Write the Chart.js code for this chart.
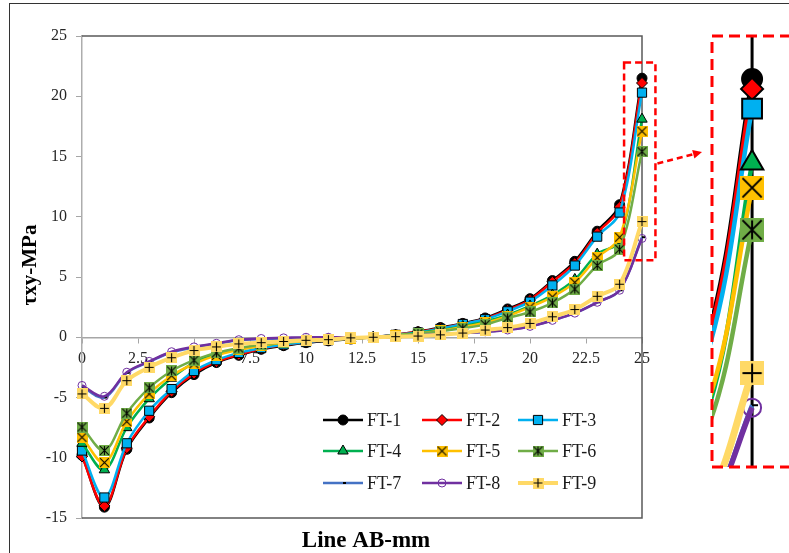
<!DOCTYPE html>
<html>
<head>
<meta charset="utf-8">
<script src="https://cdn.jsdelivr.net/npm/chart.js@4.4.1/dist/chart.umd.min.js"></script>
<style>
    html, body { margin: 0; padding: 0; background: #fff; }
    #quadro { position: relative; width: 789px; height: 553px; overflow: hidden; }
    #moldura { position: absolute; left: 9px; top: 3px; width: 900px; height: 700px; border-left: 1.5px solid #333; border-top: 1.5px solid #333; }
    #grafico { position: absolute; left: 0; top: 0; }
    #graficoZoom { position: absolute; left: 700px; top: 0; }
</style>
</head>
<body>
<div id="quadro">
    <div id="moldura"></div>
    <canvas id="grafico" width="789" height="553" style="width:789px;height:553px"></canvas>
    <canvas id="graficoZoom" width="89" height="553" style="width:89px;height:553px"></canvas>
</div>
<script>
// posições ao longo da linha AB (mm)
const posicoes = [0, 1, 2, 3, 4, 5, 6, 7, 8, 9, 10, 11, 12, 13, 14, 15, 16, 17, 18, 19, 20, 21, 22, 23, 24, 25];
const ticksX = [0, 2.5, 5, 7.5, 10, 12.5, 15, 17.5, 20, 22.5, 25];
const ticksY = [-15, -10, -5, 0, 5, 10, 15, 20, 25];
const nomes = ['FT-1', 'FT-2', 'FT-3', 'FT-4', 'FT-5', 'FT-6', 'FT-7', 'FT-8', 'FT-9'];

// tensão de cisalhamento (MPa)
const ft1 = [-9.8, -14.1, -9.3, -6.7, -4.6, -3.1, -2.1, -1.5, -1.0, -0.7, -0.45, -0.3, -0.15, 0.0, 0.2, 0.45, 0.8, 1.15, 1.6, 2.35, 3.2, 4.7, 6.3, 8.8, 11.0, 21.5];
const ft2 = [-9.9, -14.0, -9.2, -6.6, -4.5, -3.0, -2.05, -1.45, -0.95, -0.65, -0.4, -0.25, -0.1, 0.0, 0.2, 0.45, 0.75, 1.1, 1.55, 2.25, 3.1, 4.6, 6.15, 8.65, 10.8, 21.1];
const ft3 = [-9.4, -13.3, -8.8, -6.1, -4.3, -2.8, -1.9, -1.3, -0.9, -0.6, -0.4, -0.25, -0.1, 0.0, 0.2, 0.4, 0.7, 1.1, 1.5, 2.15, 2.95, 4.3, 5.95, 8.35, 10.35, 20.3];
const ft4 = [-8.8, -11.0, -7.5, -5.1, -3.4, -2.1, -1.4, -1.0, -0.7, -0.45, -0.3, -0.2, -0.1, 0.0, 0.15, 0.35, 0.6, 0.9, 1.3, 1.85, 2.6, 3.5, 4.8, 6.9, 8.0, 18.1];
const ft5 = [-8.3, -10.4, -7.0, -4.7, -3.2, -2.2, -1.5, -1.05, -0.7, -0.45, -0.3, -0.2, -0.1, 0.0, 0.15, 0.3, 0.55, 0.85, 1.2, 1.75, 2.5, 3.35, 4.55, 6.6, 8.3, 17.1];
const ft6 = [-7.45, -9.4, -6.3, -4.2, -2.8, -1.9, -1.3, -0.9, -0.6, -0.4, -0.25, -0.15, -0.05, 0.0, 0.1, 0.3, 0.5, 0.75, 1.05, 1.6, 2.1, 2.85, 4.0, 5.95, 7.3, 15.4];
const ft7 = [-4.1, -5.0, -2.95, -2.05, -1.25, -0.85, -0.55, -0.25, -0.15, -0.1, -0.05, -0.05, 0.0, 0.0, 0.05, 0.15, 0.25, 0.35, 0.45, 0.65, 0.9, 1.4, 2.0, 2.9, 3.9, 8.3];
const ft8 = [-4.0, -4.9, -2.9, -2.0, -1.2, -0.8, -0.5, -0.2, -0.1, -0.05, 0.0, 0.0, 0.0, 0.0, 0.05, 0.15, 0.25, 0.35, 0.45, 0.6, 0.9, 1.4, 2.0, 2.9, 3.9, 8.2];
const ft9 = [-4.7, -5.9, -3.6, -2.5, -1.7, -1.1, -0.8, -0.55, -0.45, -0.35, -0.25, -0.2, -0.05, 0.0, 0.05, 0.1, 0.2, 0.35, 0.6, 0.8, 1.15, 1.7, 2.3, 3.4, 4.4, 9.6];
const series = [ft1, ft2, ft3, ft4, ft5, ft6, ft7, ft8, ft9];

// aparência de cada série (gráfico principal e ampliação)
const estilos = [
    { cor: '#000000', marcador: 'circle', fundo: '#000000', raio: 5, raioZoom: 10, largura: 2.5, larguraZoom: 4.5 },
    { cor: '#FF0000', marcador: 'rectRot', fundo: '#FF0000', raio: 5.5, raioZoom: 11, largura: 2.5, larguraZoom: 4.5 },
    { cor: '#00B0F0', marcador: 'rect', fundo: '#00B0F0', raio: 6.5, raioZoom: 14, largura: 2.5, larguraZoom: 4.5 },
    { cor: '#00B050', marcador: 'triangle', fundo: '#00B050', raio: 6, raioZoom: 13, largura: 2.5, larguraZoom: 4.5 },
    { cor: '#FFC000', marcador: 'x', fundo: '#FFC000', raio: 5, raioZoom: 10, largura: 2.5, larguraZoom: 4.5 },
    { cor: '#70AD47', marcador: 'star', fundo: '#70AD47', raio: 5, raioZoom: 10, largura: 2.5, larguraZoom: 4.5 },
    { cor: '#4472C4', marcador: 'dash', fundo: '#000000', borda: '#000000', raio: 3, raioZoom: 6, largura: 2.5, larguraZoom: 4.5 },
    { cor: '#7030A0', marcador: 'circle', fundo: 'rgba(255,255,255,0)', borda: '#7030A0', raio: 4, raioZoom: 9, largura: 2.5, larguraZoom: 5.5 },
    { cor: '#FFD966', marcador: 'plus', fundo: '#FFD966', raio: 5, raioZoom: 10, largura: 4, larguraZoom: 7 }
];

const fonteSerif = "'Liberation Serif', 'Times New Roman', serif";

// marcador quadrado com símbolo (x, asterisco, +) desenhado num canvas
function criarMarcador(tipo, lado, fundo, espessura) {
    const c = document.createElement('canvas');
    c.width = lado;
    c.height = lado;
    const g = c.getContext('2d');
    g.fillStyle = fundo;
    g.fillRect(0, 0, lado, lado);
    g.strokeStyle = '#000';
    g.lineWidth = espessura;
    const m = lado * 0.1, a = lado - m, meio = lado / 2;
    g.beginPath();
    if (tipo === 'x' || tipo === 'star') {
        g.moveTo(m, m); g.lineTo(a, a);
        g.moveTo(a, m); g.lineTo(m, a);
    }
    if (tipo === 'star' || tipo === 'plus') {
        g.moveTo(meio, m); g.lineTo(meio, a);
    }
    if (tipo === 'plus') {
        g.moveTo(m, meio); g.lineTo(a, meio);
    }
    g.stroke();
    return c;
}

function montarSeries(ampliado) {
    return series.map((valores, i) => {
        const e = estilos[i];
        const comImagem = ['x', 'star', 'plus'].includes(e.marcador);
        const ultimo = valores.length - 1;
        return {
            label: nomes[i],
            data: valores.map((v, k) => ({ x: posicoes[k], y: v })),
            borderColor: e.cor,
            backgroundColor: e.cor,
            borderWidth: ampliado ? e.larguraZoom : e.largura,
            tension: 0.35,
            capBezierPoints: !ampliado,
            pointStyle: comImagem ? criarMarcador(e.marcador, ampliado ? 24 : 11, e.fundo, ampliado ? 2 : 1.1) : e.marcador,
            pointRadius: ampliado ? (ctx => ctx.dataIndex === ultimo ? e.raioZoom : 0) : e.raio,
            pointBackgroundColor: e.fundo,
            pointBorderColor: e.borda || '#000',
            pointBorderWidth: ampliado ? 2 : (e.marcador === 'dash' ? 2 : 1),
            order: series.length - i,
            clip: ampliado ? 0 : false
        };
    });
}

// moldura da área de plotagem, caixa de destaque, seta, títulos e legenda
const pluginPrincipal = {
    id: 'principal',
    beforeDatasetsDraw(chart) {
        const { ctx, chartArea: a } = chart;
        ctx.save();
        ctx.strokeStyle = '#595959';
        ctx.lineWidth = 1.5;
        ctx.beginPath();
        ctx.moveTo(a.left, a.top);
        ctx.lineTo(a.right, a.top);
        ctx.lineTo(a.right, a.bottom);
        ctx.lineTo(a.left, a.bottom);
        ctx.stroke();
        ctx.restore();
    },
    afterDatasetsDraw(chart) {
        const { ctx } = chart;
        const sx = chart.scales.x, sy = chart.scales.y;
        const x1 = sx.getPixelForValue(24.2), x2 = sx.getPixelForValue(25.6);
        const y1 = sy.getPixelForValue(22.8), y2 = sy.getPixelForValue(6.4);
        ctx.save();
        ctx.strokeStyle = '#FF0000';
        ctx.fillStyle = '#FF0000';
        ctx.lineWidth = 2.5;
        ctx.setLineDash([7, 4]);
        ctx.strokeRect(x1, y1, x2 - x1, y2 - y1);

        // seta tracejada até a ampliação
        const inicio = { x: x2 + 2, y: y1 + 101 };
        const ponta = { x: 702, y: 152 };
        const dx = ponta.x - inicio.x, dy = ponta.y - inicio.y;
        const d = Math.hypot(dx, dy), ux = dx / d, uy = dy / d;
        const base = { x: ponta.x - 9 * ux, y: ponta.y - 9 * uy };
        ctx.setLineDash([6, 4]);
        ctx.beginPath();
        ctx.moveTo(inicio.x, inicio.y);
        ctx.lineTo(base.x, base.y);
        ctx.stroke();
        ctx.setLineDash([]);
        ctx.beginPath();
        ctx.moveTo(ponta.x, ponta.y);
        ctx.lineTo(base.x - 4.5 * uy, base.y + 4.5 * ux);
        ctx.lineTo(base.x + 4.5 * uy, base.y - 4.5 * ux);
        ctx.closePath();
        ctx.fill();
        ctx.restore();
    },
    afterDraw(chart) {
        const { ctx } = chart;
        ctx.save();
        ctx.fillStyle = '#000';
        ctx.font = 'bold 23px ' + fonteSerif;
        ctx.textAlign = 'center';
        ctx.textBaseline = 'alphabetic';
        ctx.fillText('Line AB-mm', 366, 547);
        ctx.translate(31, 265);
        ctx.rotate(-Math.PI / 2);
        ctx.textBaseline = 'middle';
        ctx.font = 'bold 21px ' + fonteSerif;
        ctx.fillText('τxy-MPa', 0, 0);
        ctx.restore();

        // legenda em 3 colunas
        const colunas = [323, 422, 518];
        const linhas = [420, 451, 483];
        chart.data.datasets.forEach((ds, i) => {
            const x0 = colunas[i % 3], y0 = linhas[Math.floor(i / 3)];
            ctx.save();
            ctx.strokeStyle = ds.borderColor;
            ctx.lineWidth = ds.borderWidth;
            ctx.beginPath();
            ctx.moveTo(x0, y0);
            ctx.lineTo(x0 + 40, y0);
            ctx.stroke();
            ctx.fillStyle = ds.pointBackgroundColor;
            ctx.strokeStyle = ds.pointBorderColor;
            ctx.lineWidth = ds.pointBorderWidth;
            Chart.helpers.drawPoint(ctx, {
                pointStyle: ds.pointStyle,
                radius: ds.pointRadius,
                borderWidth: ds.pointBorderWidth,
                rotation: 0
            }, x0 + 20, y0);
            ctx.fillStyle = '#1a1a1a';
            ctx.font = '18px ' + fonteSerif;
            ctx.textAlign = 'left';
            ctx.textBaseline = 'middle';
            ctx.fillText(ds.label, x0 + 44, y0 + 1);
            ctx.restore();
        });
    }
};

// linha vertical (borda direita ampliada) e caixa tracejada da ampliação
const pluginZoom = {
    id: 'ampliacao',
    beforeDatasetsDraw(chart) {
        const { ctx, chartArea: a } = chart;
        const x25 = chart.scales.x.getPixelForValue(25);
        ctx.save();
        ctx.strokeStyle = '#000';
        ctx.lineWidth = 3;
        ctx.beginPath();
        ctx.moveTo(x25, a.top);
        ctx.lineTo(x25, a.bottom);
        ctx.stroke();
        ctx.restore();
    },
    afterDatasetsDraw(chart) {
        const { ctx, chartArea: a } = chart;
        ctx.save();
        ctx.strokeStyle = '#FF0000';
        ctx.lineWidth = 3;
        ctx.setLineDash([11, 6]);
        ctx.strokeRect(a.left, a.top - 1, 300, a.bottom - a.top + 1);
        ctx.restore();
    }
};

const opcoesBase = {
    responsive: false,
    animation: false,
    devicePixelRatio: 1,
    events: [],
    plugins: { legend: { display: false }, tooltip: { enabled: false } }
};

new Chart(document.getElementById('grafico'), {
    type: 'line',
    data: { datasets: montarSeries(false) },
    options: {
        ...opcoesBase,
        layout: { autoPadding: false, padding: { left: 40, top: 36, right: 147, bottom: 35 } },
        scales: {
            x: {
                type: 'linear',
                min: 0,
                max: 25,
                position: { y: 0 },
                afterBuildTicks: (s) => { s.ticks = ticksX.map(v => ({ value: v })); },
                afterFit: (s) => { s.height = 0; },
                grid: { drawOnChartArea: false, tickLength: 5, color: '#A6A6A6' },
                border: { color: '#A6A6A6', width: 1.5 },
                ticks: { font: { family: fonteSerif, size: 16 }, color: '#262626', padding: 7, maxRotation: 0, autoSkip: false }
            },
            y: {
                min: -15,
                max: 25,
                afterBuildTicks: (s) => { s.ticks = ticksY.map(v => ({ value: v })); },
                afterFit: (s) => { s.width = 42; },
                grid: { drawOnChartArea: false, tickLength: 6, color: '#A6A6A6' },
                border: { color: '#ADADAD', width: 1.5 },
                ticks: { font: { family: fonteSerif, size: 16 }, color: '#262626', padding: 9 }
            }
        }
    },
    plugins: [pluginPrincipal]
});

new Chart(document.getElementById('graficoZoom'), {
    type: 'line',
    data: { datasets: montarSeries(true) },
    options: {
        ...opcoesBase,
        layout: { autoPadding: false, padding: { left: 12, top: 37, right: 0, bottom: 86 } },
        scales: {
            x: { type: 'linear', display: false, min: 24.11, max: 25.82 },
            y: { display: false, min: 5.8, max: 23.2 }
        }
    },
    plugins: [pluginZoom]
});
</script>
</body>
</html>
